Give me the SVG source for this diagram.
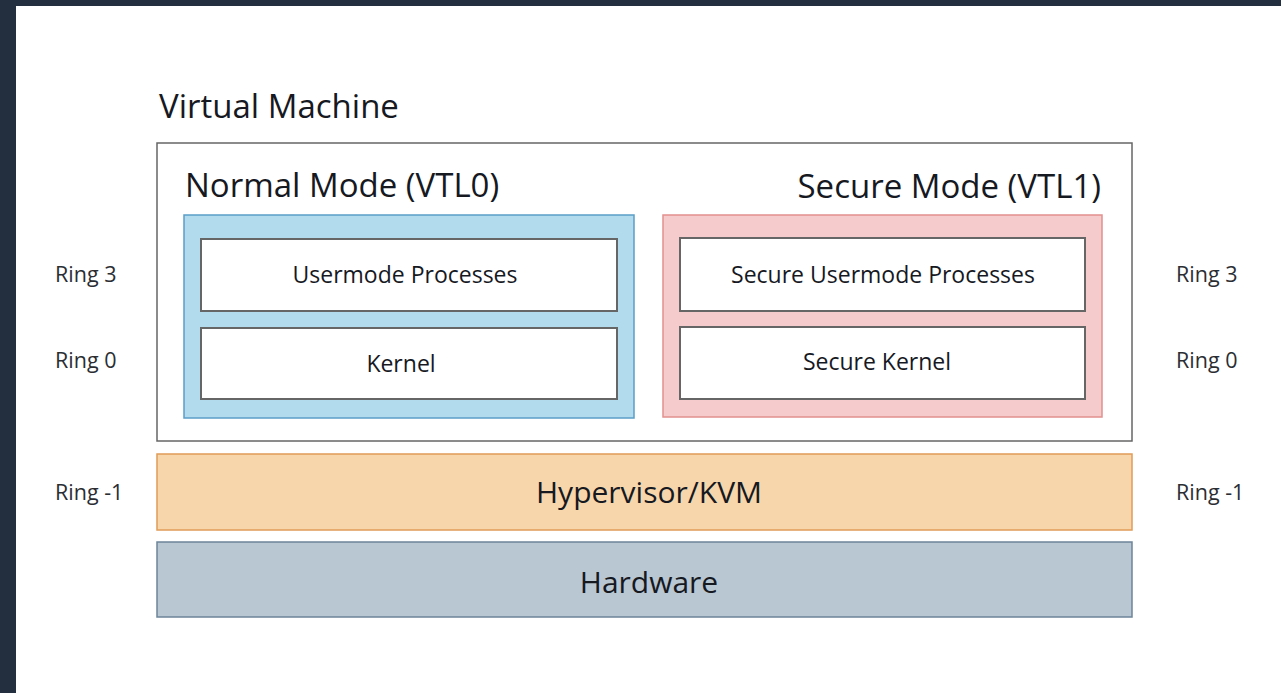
<svg xmlns="http://www.w3.org/2000/svg" width="1281" height="693" viewBox="0 0 1281 693">
  <style>
    text { font-family: "Open Sans", "Noto Sans", "Liberation Sans", sans-serif; fill: #16191f; }
    .title { font-size: 33px; }
    .label { font-size: 23px; text-anchor: middle; }
    .big { font-size: 30px; text-anchor: middle; }
    .ring { font-size: 21.5px; fill: #2a2e33; }
    .frame { fill: #ffffff; stroke: #666666; stroke-width: 1.5; }
    .box { fill: #ffffff; stroke: #666666; stroke-width: 2; }
  </style>

  <!-- page background with dark edge -->
  <rect x="0" y="0" width="1281" height="693" fill="#232f3e"/>
  <rect x="16" y="6" width="1265" height="687" fill="#ffffff"/>

  <g id="vm">
    <text class="title" x="159" y="118">Virtual Machine</text>
    <rect class="frame" x="157" y="143" width="975" height="298"/>
  </g>

  <g id="normal-mode">
    <text class="title" x="185" y="197">Normal Mode (VTL0)</text>
    <rect x="184" y="215" width="450" height="203" fill="#b2dcee" stroke="#5b9ec8" stroke-width="1.5"/>
  </g>
  <g id="usermode">
    <rect class="box" x="201" y="239" width="416" height="72"/>
    <text class="label" x="405" y="283">Usermode Processes</text>
  </g>
  <g id="kernel">
    <rect class="box" x="201" y="328" width="416" height="71"/>
    <text class="label" x="401" y="372">Kernel</text>
  </g>

  <g id="secure-mode">
    <text class="title" x="1101" y="198" text-anchor="end">Secure Mode (VTL1)</text>
    <rect x="663" y="215" width="439" height="202" fill="#f5cbcb" stroke="#e2908f" stroke-width="1.5"/>
  </g>
  <g id="secure-usermode">
    <rect class="box" x="680" y="238" width="405" height="73"/>
    <text class="label" x="883" y="283">Secure Usermode Processes</text>
  </g>
  <g id="secure-kernel">
    <rect class="box" x="680" y="327" width="405" height="72"/>
    <text class="label" x="877" y="370">Secure Kernel</text>
  </g>

  <g id="hypervisor">
    <rect x="157" y="454" width="975" height="76" fill="#f8d6ab" stroke="#e09c58" stroke-width="1.5"/>
    <text class="big" x="649" y="503">Hypervisor/KVM</text>
  </g>
  <g id="hardware">
    <rect x="157" y="542" width="975" height="75" fill="#b9c7d2" stroke="#6d8499" stroke-width="1.5"/>
    <text class="big" x="649" y="593">Hardware</text>
  </g>

  <g id="ring-labels">
    <text class="ring" x="55" y="282">Ring 3</text>
    <text class="ring" x="55" y="368">Ring 0</text>
    <text class="ring" x="55" y="500">Ring -1</text>
    <text class="ring" x="1176" y="282">Ring 3</text>
    <text class="ring" x="1176" y="368">Ring 0</text>
    <text class="ring" x="1176" y="500">Ring -1</text>
  </g>

  <g id="connectors"></g>
</svg>
